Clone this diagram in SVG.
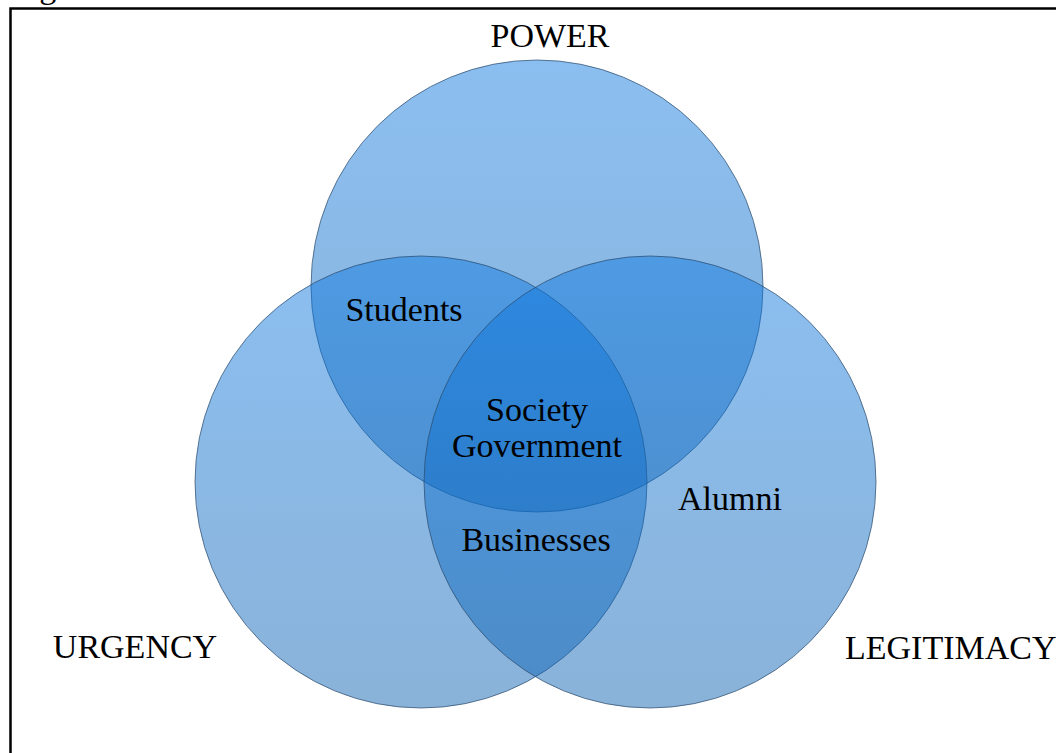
<svg xmlns="http://www.w3.org/2000/svg" width="1056" height="753" viewBox="0 0 1056 753">
  <defs>
    <linearGradient id="blue" x1="0" y1="0" x2="0" y2="1">
      <stop offset="0" stop-color="#0c78e0"/>
      <stop offset="1" stop-color="#0a5fb0"/>
    </linearGradient>
    <style>
      .c { fill: url(#blue); fill-opacity: 0.48; stroke: #2c4a6a; stroke-opacity: 0.7; stroke-width: 1; }
      .t { font-family: "Liberation Serif", "Times New Roman", serif; font-size: 34px; fill: #000; }
    </style>
  </defs>
  <rect width="1056" height="753" fill="#fff"/>
  <text class="t" x="11" y="-2">Figure</text>
  <rect x="10.5" y="8.5" width="1100" height="800" fill="none" stroke="#000" stroke-width="2.5"/>
  <g id="power"><circle class="c" cx="537" cy="286" r="226"/></g>
  <g id="urgency"><circle class="c" cx="421" cy="482" r="226"/></g>
  <g id="legitimacy"><circle class="c" cx="650" cy="482" r="226"/></g>
  <g id="connectors"></g>
  <g id="labels">
    <text class="t" x="550" y="47" text-anchor="middle">POWER</text>
    <text class="t" x="135" y="658" text-anchor="middle">URGENCY</text>
    <text class="t" x="845" y="659">LEGITIMACY</text>
    <text class="t" x="404" y="321" text-anchor="middle">Students</text>
    <text class="t" x="537" y="421" text-anchor="middle">Society</text>
    <text class="t" x="537" y="457" text-anchor="middle">Government</text>
    <text class="t" x="536" y="551" text-anchor="middle">Businesses</text>
    <text class="t" x="730" y="510" text-anchor="middle">Alumni</text>
  </g>
</svg>
